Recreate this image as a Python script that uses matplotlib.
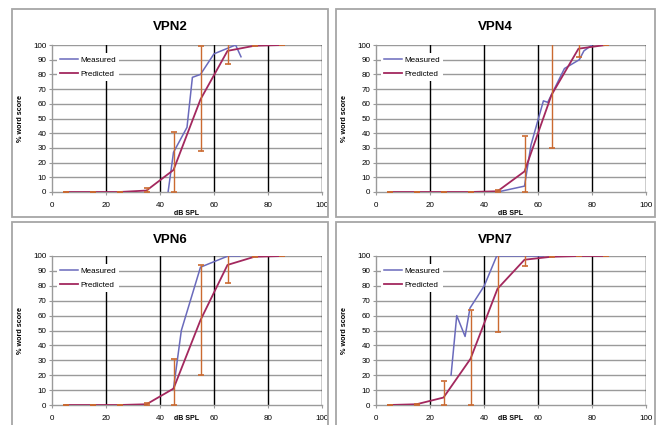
import numpy as np
import matplotlib.pyplot as plt
from matplotlib.patches import Rectangle

plt.rcParams['font.family'] = ['Liberation Sans', 'DejaVu Sans']

titles = ['VPN2', 'VPN4', 'VPN6', 'VPN7']

# predicted points (same levels for every subject)
pred_x = [5, 15, 25, 35, 45, 55, 65, 75, 85]

pred_vpn2 = [0, 0, 0, 1, 15, 63, 96, 99.5, 100]
low_vpn2 = [0, 0, 0, 0, 0, 28, 87, 99.5, 100]
high_vpn2 = [0, 0, 0, 2.5, 41, 99, 102, 100, 100]

pred_vpn4 = [0, 0, 0, 0, 0.5, 14, 66, 97.5, 100]
low_vpn4 = [0, 0, 0, 0, 0, 0, 30, 92, 100]
high_vpn4 = [0, 0, 0, 0, 1.5, 38, 104, 103, 100]

pred_vpn6 = [0, 0, 0, 0.5, 11, 57, 94, 99.5, 100]
low_vpn6 = [0, 0, 0, 0, 0, 20, 82, 99.5, 100]
high_vpn6 = [0, 0, 0, 1.5, 31, 94, 103, 100, 100]

pred_vpn7 = [0, 0.5, 5, 31, 78, 97.5, 99.5, 100, 100]
low_vpn7 = [0, 0, 0, 0, 49, 93, 99.5, 100, 100]
high_vpn7 = [0, 1, 16, 64, 104, 102, 100, 100, 100]

# measured curves
meas_x_vpn2 = [43, 45, 50, 52, 55, 60, 68, 70]
meas_y_vpn2 = [0, 27, 44, 78, 80, 94, 100, 92]

meas_x_vpn4 = [45, 55, 57.4, 62, 63.6, 69.8, 75.3, 77, 80]
meas_y_vpn4 = [0, 4, 32, 62, 61, 84, 90, 96, 100]

meas_x_vpn6 = [45, 47.9, 55, 65.2, 69.5]
meas_y_vpn6 = [11, 50, 92.5, 100, 100]

meas_x_vpn7 = [27.8, 29.9, 33, 34.8, 40.1, 44.7, 62]
meas_y_vpn7 = [20, 60, 46, 65, 80, 100, 100]

panels = [
    (meas_x_vpn2, meas_y_vpn2, pred_vpn2, low_vpn2, high_vpn2),
    (meas_x_vpn4, meas_y_vpn4, pred_vpn4, low_vpn4, high_vpn4),
    (meas_x_vpn6, meas_y_vpn6, pred_vpn6, low_vpn6, high_vpn6),
    (meas_x_vpn7, meas_y_vpn7, pred_vpn7, low_vpn7, high_vpn7),
]

W, H = 663, 425
fig = plt.figure(figsize=(W / 100, H / 100), dpi=100)

# pixel boxes: (panel left, panel top, panel right, panel bottom, axes left, axes top, axes right, axes bottom)
boxes = [
    (12, 9, 328, 217, 52, 45, 322, 192),
    (336, 9, 655, 217, 376, 45, 646, 192),
    (12, 222, 328, 440, 52, 256, 322, 405),
    (336, 222, 655, 440, 376, 256, 646, 405),
]

c_meas = '#6A6ABC'
c_pred = '#A3285E'
c_bar = '#CB6A30'
c_cap = '#B8501E'

for i, (mx, my, py, lo, hi) in enumerate(panels):
    pl, pt, pr, pb, al, at, ar, ab = boxes[i]

    #panel frame
    fig.patches.append(Rectangle((pl / W, 1 - pb / H), (pr - pl) / W, (pb - pt) / H,
                                 transform=fig.transFigure, fill=False,
                                 edgecolor='#A6A6A6', linewidth=1.3))
    fig.text((pl + pr) / 2 / W, 1 - (pt + 18) / H, titles[i],
             ha='center', va='center', fontsize=9.5, fontweight='bold')

    ax = fig.add_axes([al / W, 1 - ab / H, (ar - al) / W, (ab - at) / H])
    ax.set_xlim(0, 100)
    ax.set_ylim(0, 100)
    ax.set_xticks(np.arange(0, 101, 20))
    ax.set_yticks(np.arange(0, 101, 10))

    #grid
    for yv in range(10, 101, 10):
        ax.axhline(yv, color='#9A9A9A', linewidth=1.0, zorder=1)
    for xv in range(20, 101, 20):
        ax.axvline(xv, color='black', linewidth=1.0, zorder=1)

    for s in ['top', 'right']:
        ax.spines[s].set_visible(False)
    for s in ['left', 'bottom']:
        ax.spines[s].set_color('#9A9A9A')
        ax.spines[s].set_linewidth(1.0)

    ax.tick_params(axis='both', labelsize=5.8, color='#9A9A9A', length=2.5, width=0.8)
    ax.tick_params(axis='y', pad=1.5)
    ax.tick_params(axis='x', pad=5)

    #measured + predicted
    ax.plot(mx, my, color=c_meas, linewidth=1.1, label='Measured', zorder=3)
    ax.plot(pred_x, py, color=c_pred, linewidth=1.3, label='Predicted', zorder=3)

    #error bars
    py_arr = np.array(py)
    yerr = [py_arr - np.array(lo), np.array(hi) - py_arr]
    eb = ax.errorbar(pred_x, py, yerr=yerr, fmt='none', ecolor=c_bar, elinewidth=1.0,
                     capsize=2, capthick=1.2, zorder=4)
    for cl in eb[1]:
        cl.set_color(c_cap)

    leg = ax.legend(loc='upper left', bbox_to_anchor=(0.0185, 0.947), fontsize=5.8,
                    frameon=True, fancybox=False, edgecolor='none', facecolor='white',
                    framealpha=1, handlelength=2.25, handletextpad=0.25,
                    labelspacing=0.84, borderaxespad=0, borderpad=0.4)
    leg.set_zorder(5)

    ax.set_ylabel('% word score', fontsize=5.2, fontweight='bold')
    ax.yaxis.set_label_coords(-0.104, 0.5)
    fig.text((al + ar) / 2 / W, 1 - min(ab + 21, 419) / H, 'dB SPL', ha='center',
             va='center', fontsize=5, fontweight='bold')

fig.savefig('out.png', dpi=100)
